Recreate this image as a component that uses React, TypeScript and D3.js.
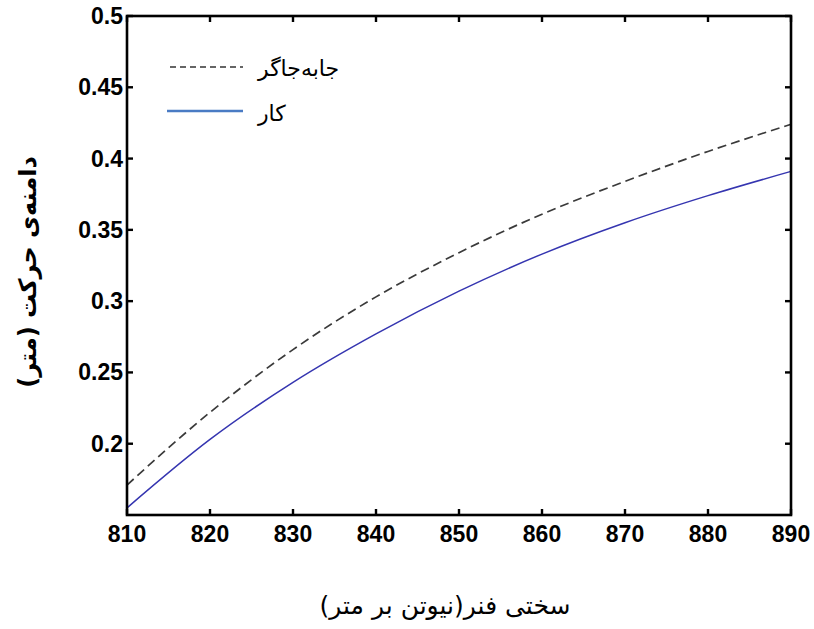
import React from "react";
import * as d3 from "d3";

const stiffness = [810, 820, 830, 840, 850, 860, 870, 880, 890];
const displacementSeries = [0.171, 0.222, 0.266, 0.303, 0.334, 0.361, 0.384, 0.405, 0.424];
const workSeries = [0.155, 0.203, 0.243, 0.277, 0.307, 0.333, 0.355, 0.374, 0.391];
const xTicks = [810, 820, 830, 840, 850, 860, 870, 880, 890];
const yTicks = [0.2, 0.25, 0.3, 0.35, 0.4, 0.45, 0.5];
const legendLabels = ["جابه\u200cجاگر", "کار"];
const xTitle = "سختی فنر(نیوتن بر متر)";
const yTitle = "دامنه\u200cی حرکت (متر)";

const W = 814, H = 629;
const L = 127, R = 791, T = 16, B = 515;
const faFont = "'DejaVu Sans', sans-serif";

export default function App() {
  const x = d3.scaleLinear().domain([810, 890]).range([L, R]);
  const y = d3.scaleLinear().domain([0.15, 0.5]).range([B, T]);
  const line = d3
    .line<[number, number]>()
    .x((d) => x(d[0]))
    .y((d) => y(d[1]))
    .curve(d3.curveMonotoneX);
  const dashPath = line(stiffness.map((s, i) => [s, displacementSeries[i]] as [number, number])) || "";
  const workPath = line(stiffness.map((s, i) => [s, workSeries[i]] as [number, number])) || "";
  const tickLen = 6;
  const tickFont = "'Liberation Sans', Arial, sans-serif";

  return (
    <svg width={W} height={H} style={{ position: "absolute", left: 0, top: 0, background: "#fff" }}>
      <rect x={0} y={0} width={W} height={H} fill="#fff" />
      <path d={dashPath} fill="none" stroke="#3a3a3a" strokeWidth={1.7} strokeDasharray="9,5" />
      <path d={workPath} fill="none" stroke="#3535b0" strokeWidth={1.5} />

      <rect x={L} y={T} width={R - L} height={B - T} fill="none" stroke="#000" strokeWidth={2.6} />

      {xTicks.map((t) => (
        <g key={"x" + t}>
          <line x1={x(t)} x2={x(t)} y1={B} y2={B - tickLen} stroke="#000" strokeWidth={2.4} />
          <line x1={x(t)} x2={x(t)} y1={T} y2={T + tickLen} stroke="#000" strokeWidth={2.4} />
          <text x={x(t)} y={542} textAnchor="middle" fontFamily={tickFont} fontWeight="bold" fontSize={23} fill="#000">
            {t}
          </text>
        </g>
      ))}

      {yTicks.map((t) => (
        <g key={"y" + t}>
          <line x1={L} x2={L + tickLen} y1={y(t)} y2={y(t)} stroke="#000" strokeWidth={2.4} />
          <line x1={R} x2={R - tickLen} y1={y(t)} y2={y(t)} stroke="#000" strokeWidth={2.4} />
          <text x={L - 4} y={y(t) + 8} textAnchor="end" fontFamily={tickFont} fontWeight="bold" fontSize={23} fill="#000">
            {d3.format("")(t)}
          </text>
        </g>
      ))}

      <line x1={170} x2={243} y1={67} y2={67} stroke="#333" strokeWidth={1.6} strokeDasharray="6,4" />
      <text x={258} y={76} fontFamily={faFont} fontSize={22} fill="#000">
        {legendLabels[0]}
      </text>
      <line x1={167} x2={243} y1={111} y2={111} stroke="#4a7bc4" strokeWidth={2.6} />
      <text x={258} y={121} fontFamily={faFont} fontSize={22} fill="#000">
        {legendLabels[1]}
      </text>

      <text x={445} y={614} textAnchor="middle" fontFamily={faFont} fontSize={25} fill="#000" direction="rtl">
        {xTitle}
      </text>
      <text
        transform={`translate(36, 272) rotate(-90)`}
        textAnchor="middle"
        fontFamily={faFont}
        fontSize={24}
        fontWeight="bold"
        fill="#000"
        direction="rtl"
      >
        {yTitle}
      </text>
    </svg>
  );
}
